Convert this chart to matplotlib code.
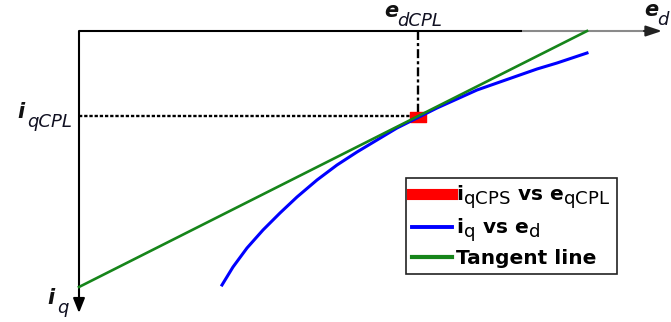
import matplotlib
matplotlib.use("Agg")
import matplotlib.pyplot as plt
from matplotlib.lines import Line2D
import matplotlib._mathtext as _mt

# larger, lower subscripts in legend labels
_mt.SHRINK_FACTOR = 0.9
for _cls in (_mt.FontConstantsBase, getattr(_mt, 'DejaVuSansFontConstants', _mt.FontConstantsBase)):
    _cls.sub1 = 0.45
    _cls.sub2 = 0.6

plt.rcParams['font.family'] = ['DejaVu Sans']
plt.rcParams['mathtext.fontset'] = 'custom'
plt.rcParams['mathtext.rm'] = 'DejaVu Sans'

# Data (arbitrary units, e_d to the right, i_q downward)
ed_curve = [1.43, 1.54, 1.68, 1.84, 2.01, 2.18, 2.38, 2.58, 2.78, 2.98,
            3.18, 3.38, 3.58, 3.78, 3.98, 4.18, 4.38, 4.58, 4.78, 5.08]
iq_curve = [2.54, 2.36, 2.17, 1.99, 1.82, 1.66, 1.49, 1.34, 1.21, 1.09,
            0.97, 0.87, 0.77, 0.68, 0.59, 0.52, 0.45, 0.38, 0.32, 0.22]
ed_tangent = [0.0, 5.08]
iq_tangent = [2.56, 0.0]
ed_cpl = 3.39
iq_cpl = 0.86
ed_axis_end = 5.83
iq_axis_end = 2.82

fig = plt.figure(figsize=(6.71, 3.22), dpi=100)
ax = fig.add_axes([0, 0, 1, 1])
ax.set_xlim(-0.79, 5.92)
ax.set_ylim(2.91, -0.31)
ax.axis('off')

# axes with arrows
ax.plot([0, 4.43], [0, 0], color='black', lw=1.5, solid_capstyle='butt')
ax.plot([4.43, 5.72], [0, 0], color='#8a8a8a', lw=1.5, solid_capstyle='butt')
ax.annotate('', xy=(ed_axis_end, 0), xytext=(5.65, 0),
            arrowprops=dict(arrowstyle='-|>,head_length=0.6,head_width=0.2',
                            color='#222222', lw=1.5, mutation_scale=16,
                            shrinkA=0, shrinkB=0))
ax.annotate('', xy=(0, iq_axis_end), xytext=(0, 0),
            arrowprops=dict(arrowstyle='-|>,head_length=0.55,head_width=0.22',
                            color='black', lw=1.5, mutation_scale=16,
                            shrinkA=0, shrinkB=0))

# guide lines
ax.plot([0, ed_cpl], [iq_cpl - 0.005, iq_cpl - 0.005], color='black', lw=1.7,
        dashes=(1.4, 0.8))
ax.plot([ed_cpl, ed_cpl], [0, iq_cpl - 0.05], color='black', lw=1.7,
        dashes=(3.8, 1.3, 1.3, 1.3))

# data
rect = [(-1, -0.65), (1, -0.65), (1, 0.65), (-1, 0.65), (-1, -0.65)]
ax.plot([ed_cpl], [iq_cpl], marker=rect, color='red', markersize=11,
        ls='none', zorder=3)
ax.plot(ed_curve, iq_curve, color='#0000ff', lw=2.2, zorder=4)
ax.plot(ed_tangent, iq_tangent, color='#16851a', lw=1.9, zorder=5)

# labels
def lab(x, y, main, sub, size=15, subsize=13, dx=0.06, dy=0.10):
    ax.text(x, y, main, fontsize=size, fontweight='bold', fontstyle='italic',
            ha='center', va='center', color='#111111')
    ax.text(x + dx, y + dy, sub, fontsize=subsize, fontstyle='italic',
            ha='left', va='center', color='#111122')

lab(3.12, -0.20, 'e', 'dCPL')
lab(5.72, -0.21, 'e', 'd')
lab(-0.58, 0.81, 'i', 'qCPL')
lab(-0.28, 2.67, 'i', 'q')

# legend
handles = [
    Line2D([], [], color='red', lw=8, marker='>', markersize=5),
    Line2D([], [], color='blue', lw=2.8),
    Line2D([], [], color='#16851a', lw=3),
]
labels = [r'i$_{\mathrm{qCPS}}$ vs e$_{\mathrm{qCPL}}$',
          r'i$_{\mathrm{q}}$ vs e$_{\mathrm{d}}$', 'Tangent line']
leg = ax.legend(handles, labels, loc='upper left',
                bbox_to_anchor=(406 / 671, 1 - 178 / 322),
                bbox_transform=fig.transFigure, borderaxespad=0,
                prop=dict(family='DejaVu Sans', weight='bold', size=14.5),
                handlelength=2.0, handletextpad=0.2, labelspacing=0.2,
                borderpad=0.3, fancybox=False, edgecolor='#222222',
                framealpha=1)
leg.get_frame().set_linewidth(1.2)

fig.savefig('out.png', dpi=100)
